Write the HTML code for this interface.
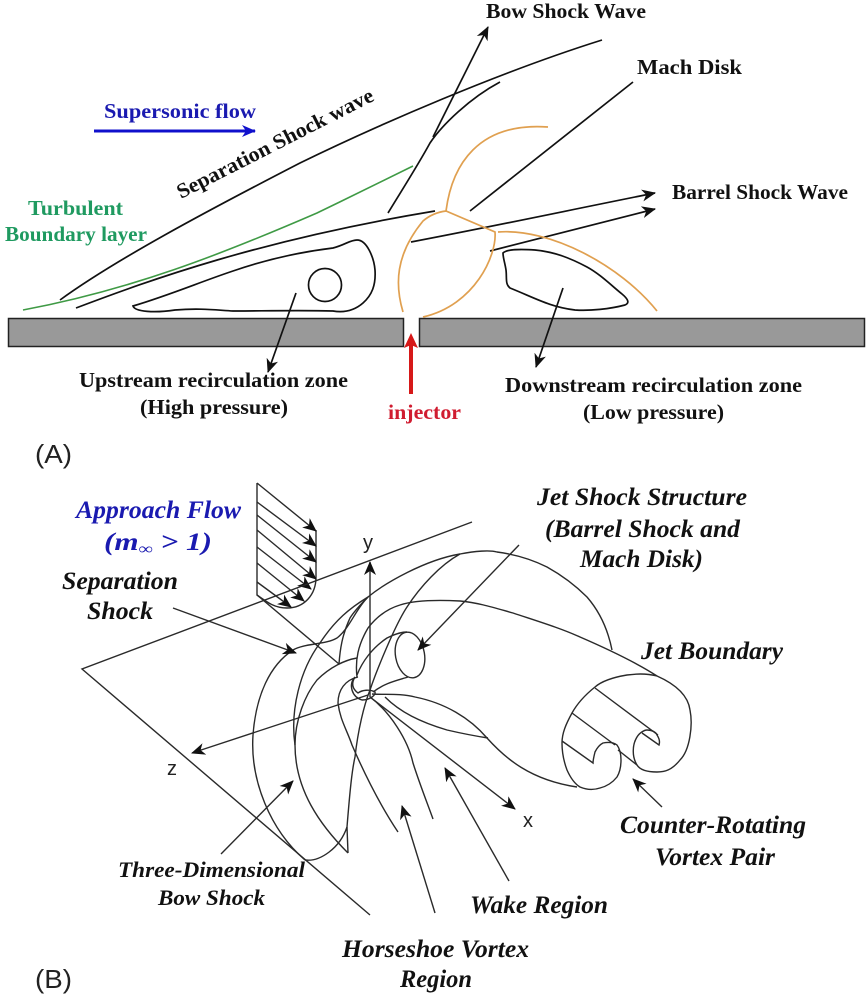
<!DOCTYPE html>
<html><head><meta charset="utf-8"><style>
html,body{margin:0;padding:0;background:#fff}
svg{display:block}
.a{font-family:"Liberation Serif",serif;font-weight:bold;font-size:21px;fill:#111}
.b{font-family:"Liberation Serif",serif;font-weight:bold;font-style:italic;font-size:25px;fill:#111}
.s{font-family:"Liberation Sans",sans-serif;fill:#222}
.k{fill:none;stroke:#111;stroke-width:1.7}
.o{fill:none;stroke:#e0a050;stroke-width:1.7}
.d{fill:none;stroke:#2a2a2a;stroke-width:1.4}
</style></head><body>
<svg width="867" height="995" viewBox="0 0 867 995" xmlns="http://www.w3.org/2000/svg">
<defs>
<marker id="h" markerUnits="userSpaceOnUse" markerWidth="16" markerHeight="14" refX="13" refY="7" orient="auto"><path d="M0,1 L14,7 L0,13 L4,7Z" fill="#111"/></marker>
<marker id="hb" markerUnits="userSpaceOnUse" markerWidth="16" markerHeight="14" refX="13" refY="7" orient="auto"><path d="M0,1 L14,7 L0,13 L4,7Z" fill="#1010cc"/></marker>
</defs>

<!-- A: wall -->
<rect x="8.5" y="318.5" width="395" height="28" fill="#999" stroke="#222" stroke-width="1.5"/>
<rect x="419.5" y="318.5" width="445" height="28" fill="#999" stroke="#222" stroke-width="1.5"/>

<!-- A: shocks -->
<path class="k" d="M60,300 C115,260 205,212 300,163 C380,124 500,72 602,40"/>
<path fill="none" stroke="#3f9a45" stroke-width="1.6" d="M23,310 C130,290 220,255 317,213 C350,197 385,180 413,166"/>
<path class="k" d="M76,308 C150,280 260,240 435,211"/>
<path class="k" d="M133,306 C170,295 200,282 233,271 C265,260 300,252 333,248 C345,245 350,240 357,240 C367,240 374,258 375,270 C376,285 372,295 363,303 C355,310 345,313 333,311 C300,310 260,311 233,311 C215,310 200,308 175,310 C155,313 135,312 133,306Z"/>
<circle class="k" cx="325" cy="285" r="16.5"/>
<path class="k" marker-end="url(#h)" d="M296,293 L268,372"/>
<path class="k" d="M388,213 C402,190 418,165 430,143 C442,125 470,98 500,82"/>
<path class="k" marker-end="url(#h)" d="M433,137 L488,27"/>
<path class="k" d="M470,211 L633,82"/>
<path class="k" marker-end="url(#h)" d="M411,242 C490,227 570,210 655,193"/>
<path class="k" marker-end="url(#h)" d="M490,251 L655,209"/>

<!-- A: barrel -->
<path class="o" d="M446,211 C452,165 478,122 548,127"/>
<path class="o" d="M403,312 C395,285 395,255 423,221 C430,215 438,212 446,211 L495,232 C497,255 475,305 423,317"/>
<path class="o" d="M498,232 C550,228 620,265 657,311"/>
<path class="k" d="M503,253 C507,249 520,249 535,250 C555,252 570,258 587,267 C600,274 612,286 622,294 C628,299 630,303 625,305 C610,309 590,311 575,310 C550,307 535,298 510,288 C505,284 507,278 506,270 C505,263 503,258 503,253Z"/>
<path class="k" marker-end="url(#h)" d="M563,288 L536,367"/>

<!-- A: coloured arrows -->
<path fill="none" stroke="#1010cc" stroke-width="3" marker-end="url(#hb)" d="M94,131 L255,131"/>
<rect x="409" y="345" width="4" height="49" fill="#d61818"/>
<path d="M411,333 L404,348 L411,345 L418,348Z" fill="#d61818"/>

<!-- A: text -->
<text class="a" x="104" y="118" textLength="152" lengthAdjust="spacingAndGlyphs" style="fill:#1a1ab0">Supersonic flow</text>
<text class="a" transform="translate(181,199) rotate(-27)" x="0" y="0" textLength="218" lengthAdjust="spacingAndGlyphs">Separation Shock wave</text>
<text class="a" x="28" y="215" textLength="95" lengthAdjust="spacingAndGlyphs" style="fill:#1f9a60">Turbulent</text>
<text class="a" x="5" y="241" textLength="142" lengthAdjust="spacingAndGlyphs" style="fill:#1f9a60">Boundary layer</text>
<text class="a" x="79" y="387" textLength="269" lengthAdjust="spacingAndGlyphs">Upstream recirculation zone</text>
<text class="a" x="140" y="414" textLength="148" lengthAdjust="spacingAndGlyphs">(High pressure)</text>
<text class="a" x="388" y="419" textLength="73" lengthAdjust="spacingAndGlyphs" style="fill:#d01c30">injector</text>
<text class="a" x="486" y="18" textLength="160" lengthAdjust="spacingAndGlyphs">Bow Shock Wave</text>
<text class="a" x="637" y="74" textLength="105" lengthAdjust="spacingAndGlyphs">Mach Disk</text>
<text class="a" x="672" y="199" textLength="176" lengthAdjust="spacingAndGlyphs">Barrel Shock Wave</text>
<text class="a" x="505" y="392" textLength="297" lengthAdjust="spacingAndGlyphs">Downstream recirculation zone</text>
<text class="a" x="583" y="419" textLength="141" lengthAdjust="spacingAndGlyphs">(Low pressure)</text>
<text class="s" x="35" y="463" font-size="26" textLength="37" lengthAdjust="spacingAndGlyphs">(A)</text>
<text class="s" x="35" y="988" font-size="26" textLength="37" lengthAdjust="spacingAndGlyphs">(B)</text>

<!-- B: velocity profile -->
<path class="d" d="M257,483 L257,595 C268,603 275,608 287,608 C304,608 316,595 316,577 L316,530"/>
<path class="d" marker-end="url(#h)" d="M257,483 L316,531"/>
<path class="d" marker-end="url(#h)" d="M257,502 L316,546"/>
<path class="d" marker-end="url(#h)" d="M257,515 L316,562"/>
<path class="d" marker-end="url(#h)" d="M257,530 L316,579"/>
<path class="d" marker-end="url(#h)" d="M257,547 L311,589"/>
<path class="d" marker-end="url(#h)" d="M257,563 L304,601"/>
<path class="d" marker-end="url(#h)" d="M257,582 L291,607"/>

<!-- B: plane -->
<path class="d" d="M472,522 L82,669 L370,915"/>
<path class="d" d="M257,595 L339,664"/>

<!-- B: axes -->
<path class="d" marker-end="url(#h)" d="M370,697 L370,562"/>
<path class="d" marker-end="url(#h)" d="M368,695 L192,753"/>
<path class="d" marker-end="url(#h)" d="M370,697 L515,809"/>
<text class="s" x="363" y="549" font-size="20">y</text>
<text class="s" x="167" y="775" font-size="20">z</text>
<text class="s" x="523" y="827" font-size="20">x</text>

<!-- B: shock surfaces -->
<path class="d" d="M305,860 C270,830 250,780 253,735 C256,695 270,665 293,650 C305,643 325,645 337,638 C350,628 355,610 368,597 C385,583 425,560 460,554 C475,551 490,550 497,552 C520,555 535,561 547,567 C565,577 578,588 587,597 C600,612 608,630 612,650"/>
<path class="d" d="M295,745 C290,710 300,670 320,643 C335,620 350,608 368,597"/>
<path class="d" d="M295,745 C295,720 305,695 317,680 C330,667 345,660 357,658"/>
<path class="d" d="M348,853 C320,825 295,790 295,745"/>
<path class="d" d="M305,860 C320,862 340,848 347,827 C350,790 352,770 355,757 C358,730 364,705 370,690 C376,672 395,625 407,607 C420,587 440,565 460,554"/>
<path class="d" d="M348,853 L347,827"/>
<path class="d" d="M339,664 C340,650 342,635 350,618 C355,610 362,603 368,597"/>

<!-- B: jet -->
<path class="d" d="M357,677 C355,660 358,645 368,628 C378,615 390,608 400,605 C415,600 440,600 460,601 C480,603 495,608 513,613 C540,622 560,628 580,637 C610,650 640,665 657,676 C675,684 688,695 690,710 C693,725 690,750 680,760 C672,770 665,772 657,772 C648,772 640,770 637,765 C632,757 632,745 637,737 C640,732 645,730 647,730 C652,730 656,732 657,735 C659,738 660,742 659,745 L642,733"/>
<path class="d" d="M357,675 C362,662 372,648 387,638 C393,635 400,632 407,632"/>
<ellipse class="d" cx="410" cy="655" rx="14.5" ry="23" transform="rotate(-10 410 655)"/>
<path class="d" d="M408,677 C395,681 385,683 373,692"/>
<path class="d" d="M358,677 C345,680 338,690 338,703 C340,720 347,730 352,745 C365,775 380,805 398,832"/>
<path class="d" d="M355,677 C348,685 352,697 362,700 C370,700 376,695 375,692 C370,689 362,690 358,693 C354,690 350,685 355,677Z"/>
<path class="d" d="M370,697 C390,712 408,740 413,763 C420,785 428,805 433,819"/>
<path class="d" d="M372,694 C385,695 400,693 415,697 C445,703 470,718 487,738 C505,758 530,780 577,787"/>
<path class="d" d="M385,697 C400,712 420,722 447,730 C460,733 475,736 488,738"/>

<!-- B: lobes -->
<path class="d" d="M657,676 C645,673 635,674 627,675 C615,677 603,680 595,687 C585,695 577,704 572,713 C566,724 562,733 562,743 C562,752 564,762 567,770 C571,779 575,784 580,787 C587,790 594,790 600,788 C608,786 613,782 617,777 C620,772 621,766 621,760 C621,754 620,749 617,745 C613,742 608,742 603,743 C599,745 597,748 595,752 C594,756 593,760 593,763 L562,741"/>
<path class="d" d="M595,688 L658,735"/>
<path class="d" d="M572,713 L615,745"/>
<path class="d" d="M618,750 L637,765"/>

<!-- B: leaders -->
<path class="d" marker-end="url(#h)" d="M519,545 L418,650"/>
<path class="d" marker-end="url(#h)" d="M173,608 L296,653"/>
<path class="d" marker-end="url(#h)" d="M221,854 L293,781"/>
<path class="d" marker-end="url(#h)" d="M435,913 L402,806"/>
<path class="d" marker-end="url(#h)" d="M509,881 L445,768"/>
<path class="d" marker-end="url(#h)" d="M662,807 L633,779"/>

<!-- B: text -->
<text class="b" x="76" y="518" textLength="165" lengthAdjust="spacingAndGlyphs" style="fill:#1a1ab0">Approach Flow</text>
<text class="b" x="104" y="550" textLength="108" lengthAdjust="spacingAndGlyphs" style="fill:#1a1ab0">(m<tspan font-size="16" dy="4" font-style="normal">∞</tspan><tspan dy="-4"> &gt; 1)</tspan></text>
<text class="b" x="62" y="589" textLength="116" lengthAdjust="spacingAndGlyphs">Separation</text>
<text class="b" x="87" y="619" textLength="66" lengthAdjust="spacingAndGlyphs">Shock</text>
<text class="b" x="537" y="505" textLength="210" lengthAdjust="spacingAndGlyphs">Jet Shock Structure</text>
<text class="b" x="545" y="537" textLength="195" lengthAdjust="spacingAndGlyphs">(Barrel Shock and</text>
<text class="b" x="580" y="567" textLength="123" lengthAdjust="spacingAndGlyphs">Mach Disk)</text>
<text class="b" x="641" y="659" textLength="142" lengthAdjust="spacingAndGlyphs">Jet Boundary</text>
<text class="b" x="620" y="833" textLength="186" lengthAdjust="spacingAndGlyphs">Counter-Rotating</text>
<text class="b" x="655" y="865" textLength="120" lengthAdjust="spacingAndGlyphs">Vortex Pair</text>
<text class="b" x="118" y="877" textLength="187" lengthAdjust="spacingAndGlyphs" style="font-size:22px">Three-Dimensional</text>
<text class="b" x="158" y="905" textLength="107" lengthAdjust="spacingAndGlyphs" style="font-size:22px">Bow Shock</text>
<text class="b" x="470" y="913" textLength="138" lengthAdjust="spacingAndGlyphs">Wake Region</text>
<text class="b" x="342" y="957" textLength="187" lengthAdjust="spacingAndGlyphs">Horseshoe Vortex</text>
<text class="b" x="400" y="987" textLength="72" lengthAdjust="spacingAndGlyphs">Region</text>
</svg>
</body></html>
